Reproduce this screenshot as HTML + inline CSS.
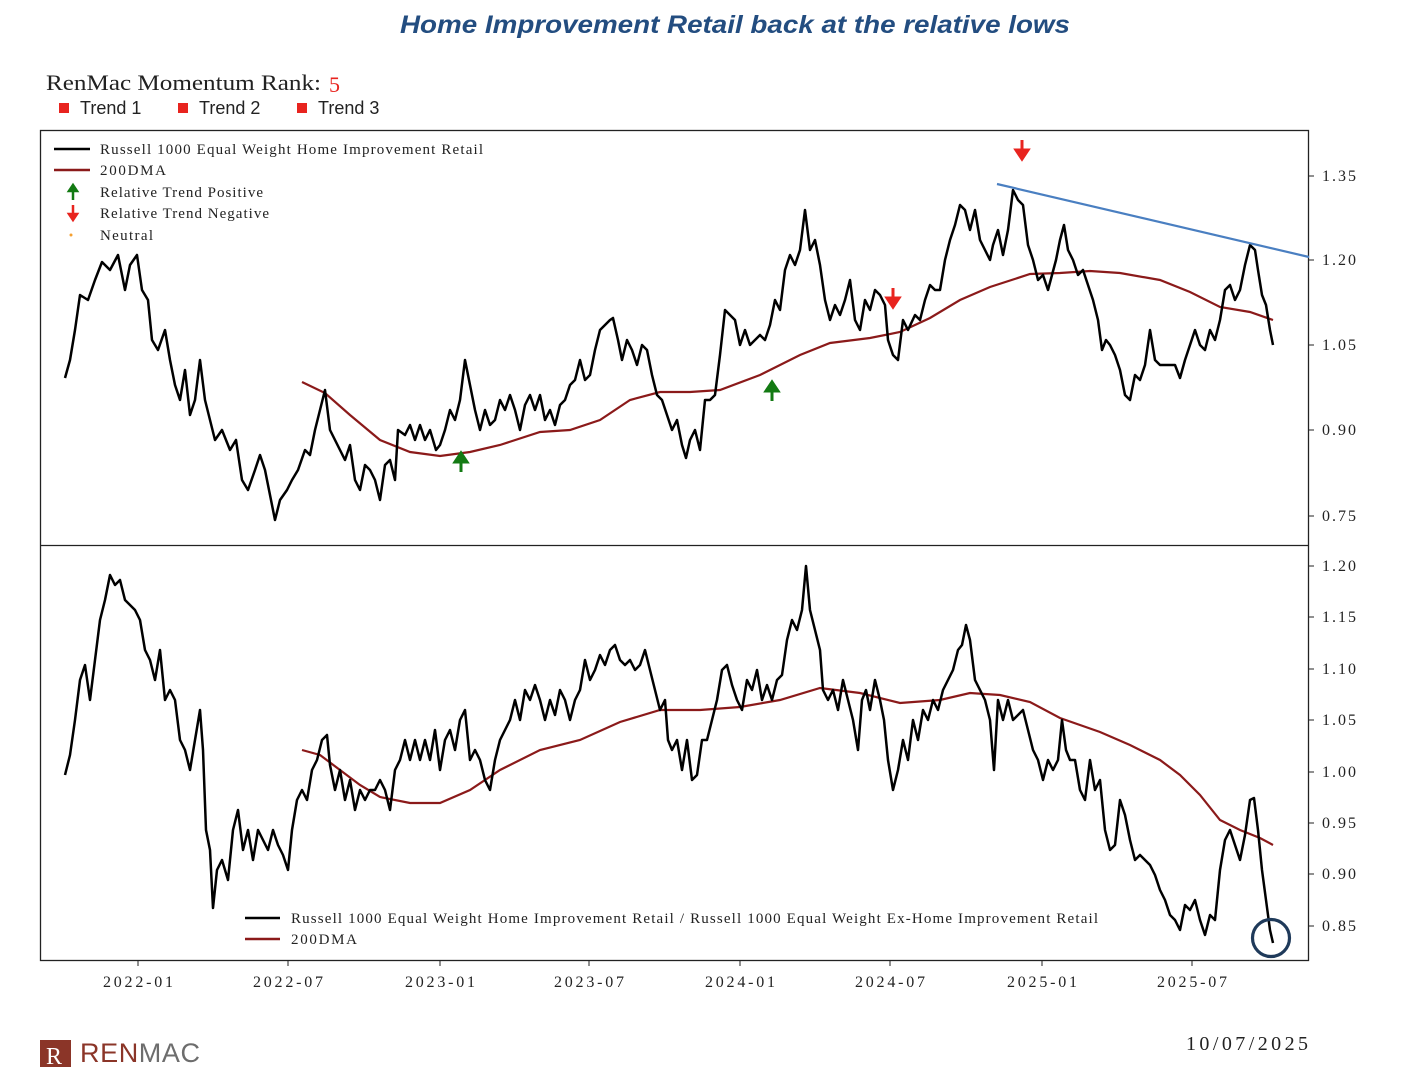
<!DOCTYPE html>
<html><head><meta charset="utf-8"><style>
html,body{margin:0;padding:0;background:#fff;}
svg{display:block;}
.s{font-family:"Liberation Serif",serif;}
</style></head><body>
<svg width="1410" height="1067" viewBox="0 0 1410 1067" xmlns="http://www.w3.org/2000/svg">
<rect width="1410" height="1067" fill="#fff"/>
<text x="400" y="33" textLength="670" lengthAdjust="spacingAndGlyphs" font-family="Liberation Sans,sans-serif" font-style="italic" font-weight="bold" font-size="25" fill="#234d80">Home Improvement Retail back at the relative lows</text>
<text class="s" x="46" y="90" font-size="22" fill="#222" textLength="275" lengthAdjust="spacingAndGlyphs">RenMac Momentum Rank:</text>
<text class="s" x="329" y="92" font-size="22" fill="#e8241f">5</text>
<g font-family="Liberation Sans,sans-serif" font-size="18" fill="#222">
<rect x="59" y="103" width="10" height="10" fill="#e8241f"/><text x="80" y="114">Trend 1</text>
<rect x="178" y="103" width="10" height="10" fill="#e8241f"/><text x="199" y="114">Trend 2</text>
<rect x="297" y="103" width="10" height="10" fill="#e8241f"/><text x="318" y="114">Trend 3</text>
</g>
<rect x="40.5" y="130.5" width="1268" height="830" fill="none" stroke="#222" stroke-width="1.3"/>
<line x1="40" y1="545.5" x2="1309" y2="545.5" stroke="#222" stroke-width="1.3"/>
<g class="s" font-size="16" fill="#222">
<g stroke="#222"><line x1="1309" y1="176" x2="1314" y2="176"/><line x1="1309" y1="260" x2="1314" y2="260"/><line x1="1309" y1="345" x2="1314" y2="345"/><line x1="1309" y1="430" x2="1314" y2="430"/><line x1="1309" y1="516" x2="1314" y2="516"/>
<line x1="1309" y1="566" x2="1314" y2="566"/><line x1="1309" y1="617" x2="1314" y2="617"/><line x1="1309" y1="669" x2="1314" y2="669"/><line x1="1309" y1="720" x2="1314" y2="720"/><line x1="1309" y1="772" x2="1314" y2="772"/><line x1="1309" y1="823" x2="1314" y2="823"/><line x1="1309" y1="874" x2="1314" y2="874"/><line x1="1309" y1="926" x2="1314" y2="926"/></g>
<text x="1322" y="181" textLength="34">1.35</text><text x="1322" y="265" textLength="34">1.20</text><text x="1322" y="350" textLength="34">1.05</text><text x="1322" y="435" textLength="34">0.90</text><text x="1322" y="521" textLength="34">0.75</text>
<text x="1322" y="571" textLength="34">1.20</text><text x="1322" y="622" textLength="34">1.15</text><text x="1322" y="674" textLength="34">1.10</text><text x="1322" y="725" textLength="34">1.05</text><text x="1322" y="777" textLength="34">1.00</text><text x="1322" y="828" textLength="34">0.95</text><text x="1322" y="879" textLength="34">0.90</text><text x="1322" y="931" textLength="34">0.85</text>
</g>
<g stroke="#222"><line x1="138" y1="961" x2="138" y2="966"/><line x1="288" y1="961" x2="288" y2="966"/><line x1="440" y1="961" x2="440" y2="966"/><line x1="589" y1="961" x2="589" y2="966"/><line x1="740" y1="961" x2="740" y2="966"/><line x1="890" y1="961" x2="890" y2="966"/><line x1="1042" y1="961" x2="1042" y2="966"/><line x1="1192" y1="961" x2="1192" y2="966"/></g>
<g class="s" font-size="16" fill="#222">
<text x="103" y="987" textLength="70">2022-01</text><text x="253" y="987" textLength="70">2022-07</text><text x="405" y="987" textLength="70">2023-01</text><text x="554" y="987" textLength="70">2023-07</text><text x="705" y="987" textLength="70">2024-01</text><text x="855" y="987" textLength="70">2024-07</text><text x="1007" y="987" textLength="70">2025-01</text><text x="1157" y="987" textLength="70">2025-07</text>
</g>
<polyline fill="none" stroke="#8b1a1a" stroke-width="2.2" points="302,382 325,393 350,415 380,440 410,452 440,456 470,452 500,445 540,432 570,430 600,420 630,400 660,392 690,392 720,390 760,375 800,355 830,343 870,338 900,332 930,318 960,300 990,287 1030,274 1060,273 1090,271 1120,273 1160,280 1190,292 1220,307 1250,312 1273,320"/>
<polyline fill="none" stroke="#000" stroke-width="2.5" stroke-linejoin="round" points="65,378 70,360 75,330 80,295 88,300 95,280 102,262 110,270 118,255 125,290 130,265 137,255 142,290 148,300 152,340 158,350 165,330 170,360 175,385 180,400 185,370 190,415 195,400 200,360 205,400 210,420 215,440 222,430 230,450 236,440 242,480 248,490 255,470 260,455 265,470 270,495 275,520 280,500 287,490 292,480 298,470 305,450 310,455 315,430 320,410 325,390 330,430 335,440 340,450 345,460 350,445 355,480 360,490 365,465 370,470 375,480 380,500 385,465 390,460 395,480 398,430 405,435 410,425 415,440 420,425 425,440 430,430 436,450 440,445 445,430 450,410 455,420 460,400 465,360 470,385 475,410 480,430 485,410 490,425 495,420 500,400 505,410 510,395 515,410 520,430 525,405 530,395 535,410 540,395 545,420 550,410 555,425 560,405 565,400 570,385 575,380 580,360 585,380 590,375 595,350 600,330 605,325 610,320 613,318 618,340 622,360 627,340 632,350 637,365 642,345 647,350 652,375 657,395 662,400 667,415 672,430 677,420 682,445 686,458 690,440 695,430 700,450 705,400 710,400 715,395 720,355 725,310 730,315 735,320 740,345 745,330 750,345 755,340 760,335 765,340 770,325 775,300 780,310 785,270 790,255 795,265 800,250 805,210 810,250 815,240 820,265 825,300 830,320 835,305 840,315 845,300 850,280 855,320 860,330 865,300 870,310 875,290 880,295 885,305 888,340 893,355 898,360 903,320 908,330 915,315 920,320 925,300 930,285 935,290 940,290 945,260 950,240 955,225 960,205 965,210 970,230 975,210 980,240 985,250 990,260 993,245 998,230 1003,255 1008,230 1013,190 1018,200 1023,205 1028,245 1033,260 1038,280 1043,275 1048,290 1052,275 1056,260 1060,240 1064,225 1068,250 1073,260 1078,275 1083,270 1088,285 1093,300 1098,320 1102,350 1106,340 1110,345 1115,355 1120,370 1125,395 1130,400 1135,375 1140,380 1145,365 1150,330 1155,360 1160,365 1165,365 1170,365 1175,365 1180,378 1185,360 1190,345 1195,330 1200,345 1205,350 1210,330 1215,340 1220,320 1225,290 1230,285 1235,300 1240,290 1245,265 1250,245 1255,250 1258,270 1262,295 1266,305 1270,330 1273,345"/>
<line x1="997" y1="184" x2="1309" y2="257" stroke="#4a7fc1" stroke-width="2.2"/>
<g>
<path d="M1022,140 v12 M1016,150 l6,9 l6,-9 z" stroke="#e8241f" stroke-width="3" fill="#e8241f"/>
<path d="M893,288 v12 M887,298 l6,9 l6,-9 z" stroke="#e8241f" stroke-width="3" fill="#e8241f"/>
<path d="M461,472 v-12 M455,462 l6,-9 l6,9 z" stroke="#137a13" stroke-width="3" fill="#137a13"/>
<path d="M772,401 v-12 M766,391 l6,-9 l6,9 z" stroke="#137a13" stroke-width="3" fill="#137a13"/>
</g>
<g class="s" font-size="15" fill="#222">
<line x1="54" y1="149" x2="90" y2="149" stroke="#000" stroke-width="2.5"/><text x="100" y="154" textLength="383">Russell 1000 Equal Weight Home Improvement Retail</text>
<line x1="54" y1="170" x2="90" y2="170" stroke="#8b1a1a" stroke-width="2.5"/><text x="100" y="175" textLength="66">200DMA</text>
<path d="M73,200 v-9 M69,191 l4,-6 l4,6 z" stroke="#137a13" stroke-width="2.5" fill="#137a13"/><text x="100" y="197" textLength="163">Relative Trend Positive</text>
<path d="M73,205 v9 M69,214 l4,6 l4,-6 z" stroke="#e8241f" stroke-width="2.5" fill="#e8241f"/><text x="100" y="218" textLength="169">Relative Trend Negative</text>
<circle cx="71" cy="235" r="1.5" fill="#f5a030"/><text x="100" y="240" textLength="53">Neutral</text>
</g>
<polyline fill="none" stroke="#8b1a1a" stroke-width="2.2" points="302,750 320,755 340,770 360,785 380,797 410,803 440,803 470,790 500,770 540,750 580,740 620,722 660,710 700,710 740,707 780,700 820,688 860,693 900,703 940,700 970,693 1000,695 1030,702 1060,718 1100,732 1130,745 1160,760 1180,775 1200,795 1220,820 1240,830 1260,838 1273,845"/>
<polyline fill="none" stroke="#000" stroke-width="2.5" stroke-linejoin="round" points="65,775 70,755 75,720 80,680 85,665 90,700 95,660 100,620 105,600 110,575 115,585 120,580 125,600 130,605 135,610 140,620 145,650 150,660 155,680 160,650 165,700 170,690 175,700 180,740 185,750 190,770 195,740 200,710 203,750 206,830 210,850 213,908 217,870 222,860 228,880 233,830 238,810 243,850 248,830 253,860 258,830 263,840 268,850 273,830 278,845 283,855 288,870 292,830 297,800 302,790 307,800 312,770 317,760 322,740 327,735 330,765 335,790 340,770 345,800 350,780 355,810 360,790 365,800 370,790 375,790 380,780 385,790 390,810 395,770 400,760 405,740 410,760 415,740 420,760 425,740 430,760 435,730 440,770 445,740 450,730 455,750 460,720 465,710 470,760 475,750 480,760 485,780 490,790 495,760 500,740 505,730 510,720 515,700 520,720 525,690 530,700 535,685 540,700 545,720 550,700 555,715 560,690 565,700 570,720 575,700 580,690 585,660 590,680 595,670 600,655 605,665 610,650 615,645 620,660 625,665 630,660 635,670 640,665 645,650 650,670 655,690 660,710 665,700 668,740 672,750 677,740 682,770 687,740 692,780 697,775 702,740 707,740 712,720 717,700 722,670 727,665 732,685 737,700 742,710 747,680 752,690 757,670 762,700 767,685 772,700 777,680 782,675 787,640 792,620 797,630 802,610 806,566 810,610 815,630 820,650 823,690 828,700 833,690 838,710 843,680 848,700 853,720 858,750 862,700 866,690 870,710 875,680 880,700 884,720 888,760 893,790 898,770 903,740 908,760 913,720 918,740 923,710 928,720 933,700 938,710 943,690 948,680 953,670 958,650 962,645 966,625 970,640 975,680 980,690 985,700 990,720 994,770 998,700 1003,720 1008,700 1013,720 1018,715 1023,710 1028,730 1033,750 1038,760 1043,780 1048,760 1053,770 1058,760 1062,720 1066,750 1070,760 1075,760 1080,790 1085,800 1090,760 1095,790 1100,780 1105,830 1110,850 1115,845 1120,800 1125,815 1130,840 1135,860 1140,855 1145,860 1150,865 1155,875 1160,890 1165,900 1170,915 1175,920 1180,930 1185,905 1190,910 1195,900 1200,920 1205,935 1210,915 1215,920 1220,870 1225,840 1230,830 1235,845 1240,860 1245,835 1250,800 1254,798 1258,830 1262,870 1266,900 1270,930 1273,943"/>
<circle cx="1271" cy="938" r="18.5" fill="none" stroke="#1f3a5a" stroke-width="3.2"/>
<g class="s" font-size="15" fill="#222">
<line x1="245" y1="918" x2="280" y2="918" stroke="#000" stroke-width="2.5"/><text x="291" y="923" textLength="807">Russell 1000 Equal Weight Home Improvement Retail / Russell 1000 Equal Weight Ex-Home Improvement Retail</text>
<line x1="245" y1="939" x2="280" y2="939" stroke="#8b1a1a" stroke-width="2.5"/><text x="291" y="944" textLength="66">200DMA</text>
</g>
<rect x="40" y="1040" width="31" height="27" fill="#8b3528"/>
<text x="46" y="1064" font-family="Liberation Serif,serif" font-size="24" fill="#fff">R</text>
<text x="80" y="1062" font-family="Liberation Sans,sans-serif" font-size="27" textLength="120"><tspan fill="#8b3528">REN</tspan><tspan fill="#6d6d6d">MAC</tspan></text>
<text class="s" x="1186" y="1050" font-size="20" fill="#222" textLength="122">10/07/2025</text>
</svg>
</body></html>
